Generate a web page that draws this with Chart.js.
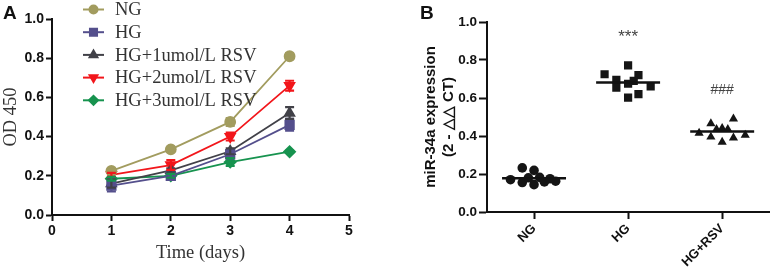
<!DOCTYPE html>
<html><head><meta charset="utf-8">
<script src="https://cdn.jsdelivr.net/npm/chart.js@4/dist/chart.umd.min.js"></script>
<style>
html,body{margin:0;padding:0;background:#fff;width:775px;height:275px;overflow:hidden;}
#ca{position:absolute;left:0;top:0;}
#cb{position:absolute;left:390px;top:0;}
</style></head><body>
<canvas id="ca" width="385" height="275"></canvas>
<canvas id="cb" width="385" height="275"></canvas>
<script>
// ---------- Panel A data ----------
const days = [1, 2, 3, 4];
const seriesNames = ['NG', 'HG', 'HG+1umol/L RSV', 'HG+2umol/L RSV', 'HG+3umol/L RSV'];
const ngOD   = [0.225, 0.335, 0.475, 0.81];
const hgOD   = [0.15, 0.20, 0.31, 0.46];
const rsv1OD = [0.16, 0.228, 0.325, 0.52];
const rsv2OD = [0.205, 0.255, 0.40, 0.66];
const rsv3OD = [0.185, 0.20, 0.27, 0.323];
const ngErr   = [0.008, 0.006, 0.02, 0.015];
const hgErr   = [0.03, 0.01, 0.02, 0.03];
const rsv1Err = [0.02, 0.01, 0.015, 0.03];
const rsv2Err = [0.01, 0.025, 0.02, 0.025];
const rsv3Err = [0.01, 0.01, 0.02, 0.005];
const xTicksA = [0, 1, 2, 3, 4, 5];
const yTicks = [0.0, 0.2, 0.4, 0.6, 0.8, 1.0];

// ---------- Panel B data ----------
const groupsB = ['NG', 'HG', 'HG+RSV'];
const ngExpr     = [0.170, 0.232, 0.155, 0.219, 0.144, 0.180, 0.182, 0.158, 0.162, 0.175];
const ngJitter   = [-0.25, -0.125, -0.125, 0, 0, -0.06, 0.06, 0.11, 0.23, 0.17];
const hgExpr     = [0.725, 0.772, 0.720, 0.695, 0.655, 0.620, 0.602, 0.661, 0.675, 0.690];
const hgJitter   = [-0.25, 0, 0.11, -0.125, -0.125, 0.11, 0, 0.24, 0, 0.06];
const rsvExpr    = [0.415, 0.465, 0.395, 0.368, 0.440, 0.490, 0.390, 0.405, 0.435, 0.435];
const rsvJitter  = [-0.245, -0.12, -0.12, 0, 0, 0.12, 0.12, 0.245, -0.06, 0.06];
const sigLabels  = ['', '***', '###'];
const sigY       = [null, 0.93, 0.64];

const colors = ['#a29c5f', '#544f8c', '#414148', '#f2161b', '#17934f'];
const styles = [
  {pointStyle: 'circle', radius: 5, rot: 0},
  {pointStyle: 'rect', radius: 6, rot: 0},
  {pointStyle: 'triangle', radius: 5.5, rot: 0},
  {pointStyle: 'triangle', radius: 5.5, rot: 180},
  {pointStyle: 'rectRot', radius: 5.5, rot: 0}
];
const sansB = "'Liberation Sans', Arial, sans-serif";
const serif = "'Liberation Serif', 'Times New Roman', serif";

const panelLabel = {
  id: 'panelLabel',
  afterDraw(chart, args, opts) {
    const ctx = chart.ctx;
    ctx.save();
    ctx.font = 'bold 19px ' + sansB;
    ctx.fillStyle = '#111';
    ctx.textBaseline = 'alphabetic';
    ctx.textAlign = 'left';
    ctx.fillText(opts.text, opts.x, opts.y);
    ctx.restore();
  }
};

const errorBars = {
  id: 'errorBars',
  afterDatasetsDraw(chart) {
    const {ctx, scales: {x, y}} = chart;
    chart.data.datasets.forEach((ds) => {
      if (!ds.err) return;
      ctx.save();
      ctx.strokeStyle = ds.borderColor;
      ctx.lineWidth = 2.2;
      ds.data.forEach((p, j) => {
        const e = ds.err[j];
        if (!e) return;
        const px = x.getPixelForValue(p.x);
        const t = y.getPixelForValue(p.y + e), b = y.getPixelForValue(p.y - e);
        ctx.beginPath();
        ctx.moveTo(px, t); ctx.lineTo(px, b);
        ctx.moveTo(px - 4.5, t); ctx.lineTo(px + 4.5, t);
        ctx.moveTo(px - 4.5, b); ctx.lineTo(px + 4.5, b);
        ctx.stroke();
      });
      ctx.restore();
    });
  }
};

const lineLegend = {
  id: 'lineLegend',
  afterDraw(chart, args, opts) {
    const ctx = chart.ctx;
    ctx.save();
    chart.data.datasets.forEach((ds, i) => {
      const yy = opts.top + i * opts.gap;
      ctx.strokeStyle = ds.borderColor;
      ctx.lineWidth = 2;
      ctx.beginPath();
      ctx.moveTo(opts.x0, yy); ctx.lineTo(opts.x1, yy);
      ctx.stroke();
      ctx.fillStyle = ds.borderColor;
      Chart.helpers.drawPoint(ctx, {pointStyle: ds.pointStyle, rotation: ds.pointRotation || 0,
        radius: ds.pointRadius - 1, borderWidth: 1}, (opts.x0 + opts.x1) / 2, yy);
      ctx.fillStyle = '#333';
      ctx.font = '18.5px ' + serif;
      ctx.textBaseline = 'middle';
      ctx.textAlign = 'left';
      ctx.fillText(ds.label, opts.tx, yy + 1);
    });
    ctx.restore();
  }
};

const seriesA = [ngOD, hgOD, rsv1OD, rsv2OD, rsv3OD];
const errsA = [ngErr, hgErr, rsv1Err, rsv2Err, rsv3Err];

new Chart(document.getElementById('ca'), {
  type: 'line',
  data: {
    datasets: seriesNames.map((name, i) => ({
      label: name,
      data: days.map((d, j) => ({x: d, y: seriesA[i][j]})),
      err: errsA[i],
      borderColor: colors[i],
      backgroundColor: colors[i],
      pointBackgroundColor: colors[i],
      pointBorderColor: colors[i],
      borderWidth: 1.8,
      pointStyle: styles[i].pointStyle,
      pointRadius: styles[i].radius,
      pointRotation: styles[i].rot,
      tension: 0,
      fill: false
    }))
  },
  options: {
    responsive: false,
    animation: false,
    events: [],
    layout: {padding: {left: 0, top: 19, right: 36, bottom: 0}},
    plugins: {
      legend: {display: false},
      tooltip: {enabled: false},
      panelLabel: {text: 'A', x: 3, y: 19},
      lineLegend: {top: 9.5, gap: 22.7, x0: 83, x1: 104, tx: 115}
    },
    scales: {
      x: {
        type: 'linear', min: 0, max: 5,
        afterBuildTicks(s) { s.ticks = xTicksA.map(v => ({value: v})); },
        ticks: {color: '#111', font: {family: sansB, weight: 'bold', size: 14}, padding: 2},
        grid: {drawOnChartArea: false, tickLength: 6, tickWidth: 2, tickColor: '#111'},
        border: {color: '#111', width: 2},
        title: {display: true, text: 'Time (days)', color: '#333', font: {family: serif, size: 18.5}, padding: {top: 0, bottom: 11}},
        afterFit(s) { s.height = 60; }
      },
      y: {
        min: 0, max: 1,
        afterBuildTicks(s) { s.ticks = yTicks.map(v => ({value: v})); },
        ticks: {color: '#111', font: {family: sansB, weight: 'bold', size: 14}, padding: 2,
          callback: v => Number(v).toFixed(1)},
        grid: {drawOnChartArea: false, tickLength: 6, tickWidth: 2, tickColor: '#111'},
        border: {color: '#111', width: 2},
        title: {display: true, text: 'OD 450', color: '#333', font: {family: serif, size: 18.5}, padding: {top: 0, bottom: 0}},
        afterFit(s) { s.width = 52; }
      }
    }
  },
  plugins: [errorBars, lineLegend, panelLabel]
});

// ---------- Panel B ----------
const exprB = [ngExpr, hgExpr, rsvExpr];
const jitB = [ngJitter, hgJitter, rsvJitter];
const shapesB = [{s: 'circle', r: 4.8}, {s: 'rect', r: 5.8}, {s: 'triangle', r: 5.3}];
const mean = a => a.reduce((p, c) => p + c, 0) / a.length;
const halfLine = 0.34;

const sigPlugin = {
  id: 'sigMarks',
  afterDatasetsDraw(chart) {
    const {ctx, scales: {x, y}} = chart;
    ctx.save();
    ctx.fillStyle = '#444';
    ctx.textAlign = 'center';
    ctx.textBaseline = 'middle';
    sigLabels.forEach((t, i) => {
      if (!t) return;
      ctx.font = (t === '***' ? '17px ' : '14px ') + sansB;
      ctx.fillText(t, x.getPixelForValue(i), y.getPixelForValue(sigY[i]) + (t === '***' ? 2 : 0));
    });
    ctx.restore();
  }
};

const dsB = [];
groupsB.forEach((g, i) => {
  dsB.push({
    type: 'line',
    label: g + ' mean',
    data: [{x: i - halfLine, y: mean(exprB[i])}, {x: i + halfLine, y: mean(exprB[i])}],
    borderColor: '#111', borderWidth: 2.5, pointRadius: 0, showLine: true, fill: false
  });
});
groupsB.forEach((g, i) => {
  dsB.push({
    type: 'scatter',
    label: g,
    data: exprB[i].map((v, j) => ({x: i + jitB[i][j], y: v})),
    pointStyle: shapesB[i].s,
    pointRadius: shapesB[i].r,
    backgroundColor: '#151515',
    borderColor: '#151515',
    borderWidth: 0
  });
});

new Chart(document.getElementById('cb'), {
  type: 'scatter',
  data: {datasets: dsB},
  options: {
    responsive: false,
    animation: false,
    events: [],
    layout: {padding: {left: 0, top: 22, right: 2, bottom: 0}},
    plugins: {
      legend: {display: false},
      tooltip: {enabled: false},
      panelLabel: {text: 'B', x: 30, y: 19}
    },
    scales: {
      x: {
        type: 'linear', min: -0.5, max: 2.5,
        afterBuildTicks(s) { s.ticks = groupsB.map((_, i) => ({value: i})); },
        ticks: {color: '#111', font: {family: sansB, weight: 'bold', size: 13}, padding: 2,
          minRotation: 45, maxRotation: 45, callback: v => groupsB[v]},
        grid: {drawOnChartArea: false, tickLength: 7, tickWidth: 2, tickColor: '#111'},
        border: {color: '#111', width: 2},
        afterFit(s) { s.height = 63; }
      },
      y: {
        min: 0, max: 1,
        afterBuildTicks(s) { s.ticks = yTicks.map(v => ({value: v})); },
        ticks: {color: '#111', font: {family: sansB, weight: 'bold', size: 13.5}, padding: 2,
          callback: v => Number(v).toFixed(1)},
        grid: {drawOnChartArea: false, tickLength: 8, tickWidth: 2, tickColor: '#111'},
        border: {color: '#111', width: 2},
        title: {display: true, text: ['miR-34a expression', '(2 - △△ CT)'], color: '#111',
          font: {family: sansB, weight: 'bold', size: 15}, padding: {top: 32, bottom: 0}},
        afterFit(s) { s.width = 97; }
      }
    }
  },
  plugins: [sigPlugin, panelLabel]
});
</script>
</body></html>
